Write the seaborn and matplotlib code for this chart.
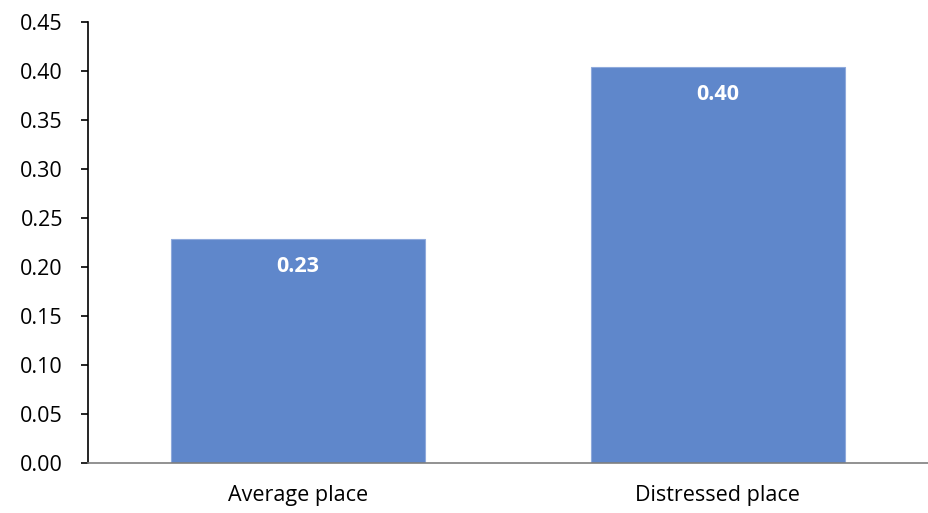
import matplotlib
matplotlib.use("Agg")
import matplotlib.pyplot as plt
import seaborn as sns
import pandas as pd

categories = ["Average place", "Distressed place"]
values = [0.229, 0.404]
yticks = [0.00, 0.05, 0.10, 0.15, 0.20, 0.25, 0.30, 0.35, 0.40, 0.45]

sns.set_theme(style="white")
plt.rcParams["font.family"] = ["Open Sans", "DejaVu Sans"]

df = pd.DataFrame({"place": categories, "value": values})

fig = plt.figure(figsize=(9.29, 5.13), dpi=100)
ax = fig.add_axes([0.0947, 0.0975, 0.904, 0.8595])

sns.barplot(data=df, x="place", y="value", color="#5F87CB", width=0.605,
            saturation=1, edgecolor="#8FAADC", linewidth=0.8, ax=ax)

ax.set_ylim(0, 0.45)
ax.set_xlim(-0.5, 1.5)
ax.set_yticks(yticks)
ax.set_yticklabels([f"{t:.2f}" for t in yticks], fontsize=15.5, color="black")
ax.tick_params(axis="y", length=5, width=1.2, color="black", pad=13, left=True)
ax.tick_params(axis="x", length=0, labelsize=15.5, labelcolor="black", pad=16)
ax.set_xlabel("")
ax.set_ylabel("")

for s in ["top", "right"]:
    ax.spines[s].set_visible(False)
ax.spines["left"].set_color("black")
ax.spines["left"].set_linewidth(1.2)
ax.spines["bottom"].set_color("#7F7F7F")
ax.spines["bottom"].set_linewidth(1.2)

for i, v in enumerate(values):
    ax.text(i, v - 0.028, f"{v:.2f}", ha="center", va="center",
            color="white", fontsize=15.5, fontweight="bold")

fig.savefig("out.png", dpi=100)
